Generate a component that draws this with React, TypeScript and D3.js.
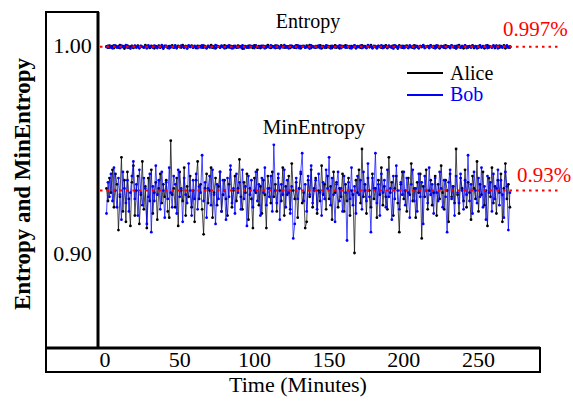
import React from "react";
import * as d3 from "d3";

const X_TICKS = [0, 50, 100, 150, 200, 250];
const Y_TICKS = [1.0, 0.9];
const Y_TICK_LABELS = ["1.00", "0.90"];
const SERIES_NAMES = ["Alice", "Bob"];
const SERIES_COLORS = ["#000000", "#0000ff"];
const ENTROPY_REF = 0.9992;
const MINENTROPY_REF = 0.93;
const ENTROPY_REF_LABEL = "0.997%";
const MINENTROPY_REF_LABEL = "0.93%";
const FIRST_MINUTE = 1;

const aliceEntropy = [
  .9993,.9987,.9997,.9989,.9995,.9985,.9997,.9991,.9988,.9999,.9990,.9995,.9983,.9993,.9997,.9988,.9992,.9996,.9986,.9994,
  .9990,.9997,.9985,.9995,.9991,.9988,.9999,.9990,.9994,.9986,.9996,.9992,.9984,.9995,.9989,.9997,.9987,.9993,.9983,.9996,
  .9992,.9986,.9995,.9989,.9998,.9987,.9994,.9985,.9996,.9991,.9988,.9999,.9990,.9994,.9986,.9995,.9992,.9997,.9987,.9993,
  .9985,.9996,.9990,.9994,.9988,.9997,.9991,.9986,.9995,.9989,.9999,.9987,.9993,.9984,.9996,.9992,.9988,.9995,.9990,.9998,
  .9986,.9994,.9989,.9996,.9984,.9995,.9991,.9987,.9997,.9990,.9993,.9983,.9995,.9991,.9988,.9996,.9989,.9994,.9986,.9998,
  .9992,.9987,.9995,.9985,.9996,.9990,.9993,.9988,.9999,.9991,.9986,.9995,.9989,.9997,.9987,.9994,.9984,.9998,.9991,.9988,
  .9995,.9989,.9993,.9986,.9996,.9991,.9987,.9998,.9990,.9994,.9984,.9995,.9992,.9988,.9997,.9989,.9999,.9986,.9993,.9991,
  .9987,.9995,.9990,.9998,.9984,.9994,.9991,.9987,.9996,.9989,.9995,.9985,.9993,.9998,.9988,.9992,.9984,.9996,.9990,.9994,
  .9998,.9988,.9992,.9985,.9995,.9990,.9997,.9984,.9994,.9991,.9987,.9998,.9989,.9995,.9985,.9993,.9991,.9999,.9987,.9990,
  .9995,.9984,.9996,.9992,.9987,.9994,.9989,.9998,.9985,.9995,.9991,.9988,.9997,.9990,.9994,.9983,.9998,.9992,.9987,.9995,
  .9989,.9997,.9985,.9993,.9991,.9987,.9998,.9990,.9995,.9984,.9994,.9992,.9997,.9988,.9990,.9995,.9985,.9998,.9991,.9987,
  .9994,.9989,.9996,.9984,.9995,.9992,.9987,.9998,.9990,.9993,.9985,.9997,.9991,.9988,.9995,.9989,.9999,.9987,.9994,.9984,
  .9997,.9991,.9988,.9995,.9990,.9998,.9985,.9993,.9992,.9987,.9996,.9989,.9995,.9984,.9994,.9998,.9988,.9992,.9990,.9995,
  .9985,.9997,.9991,.9987,.9994,.9989,.9998,.9984,.9995,.9991,.9988,
];

const bobEntropy = [
  .9990,.9996,.9987,.9994,.9984,.9998,.9991,.9988,.9995,.9985,.9997,.9990,.9993,.9999,.9987,.9992,.9983,.9995,.9989,.9997,
  .9987,.9994,.9985,.9996,.9991,.9989,.9995,.9984,.9998,.9990,.9993,.9987,.9997,.9992,.9985,.9995,.9990,.9999,.9986,.9994,
  .9996,.9989,.9984,.9995,.9991,.9987,.9998,.9985,.9993,.9990,.9997,.9992,.9986,.9995,.9983,.9998,.9990,.9994,.9987,.9996,
  .9991,.9985,.9995,.9989,.9998,.9987,.9994,.9984,.9996,.9991,.9989,.9995,.9985,.9999,.9990,.9993,.9987,.9997,.9992,.9984,
  .9995,.9990,.9998,.9987,.9993,.9985,.9996,.9991,.9988,.9995,.9989,.9998,.9983,.9994,.9992,.9987,.9997,.9990,.9995,.9985,
  .9998,.9991,.9987,.9994,.9989,.9996,.9984,.9995,.9992,.9988,.9998,.9990,.9993,.9985,.9997,.9991,.9987,.9995,.9989,.9999,
  .9987,.9993,.9984,.9997,.9991,.9989,.9995,.9986,.9998,.9985,.9994,.9991,.9996,.9987,.9990,.9995,.9983,.9998,.9992,.9988,
  .9994,.9989,.9997,.9985,.9995,.9991,.9987,.9998,.9990,.9993,.9984,.9996,.9992,.9988,.9995,.9990,.9998,.9985,.9994,.9991,
  .9987,.9996,.9990,.9995,.9984,.9993,.9998,.9988,.9992,.9990,.9997,.9985,.9995,.9991,.9987,.9999,.9989,.9994,.9984,.9996,
  .9992,.9987,.9995,.9990,.9998,.9985,.9994,.9991,.9988,.9997,.9990,.9995,.9983,.9998,.9992,.9987,.9994,.9989,.9996,.9985,
  .9995,.9991,.9987,.9998,.9989,.9994,.9984,.9996,.9992,.9988,.9995,.9990,.9999,.9985,.9993,.9991,.9987,.9997,.9990,.9995,
  .9984,.9998,.9991,.9988,.9994,.9990,.9996,.9985,.9995,.9992,.9987,.9998,.9989,.9994,.9983,.9997,.9991,.9988,.9995,.9990,
  .9998,.9985,.9993,.9991,.9987,.9996,.9990,.9995,.9984,.9994,.9998,.9988,.9992,.9990,.9997,.9985,.9995,.9991,.9987,.9998,
  .9990,.9994,.9984,.9997,.9991,.9988,.9995,.9990,.9998,.9987,.9993,
];

const aliceMinEntropy = [
  0.931,0.925,0.936,0.929,0.940,0.922,0.938,0.933,0.911,0.927,0.946,0.920,0.935,0.915,0.939,0.926,0.913,0.934,0.942,0.918,
  0.930,0.937,0.914,0.928,0.944,0.921,0.932,0.912,0.936,0.925,0.940,0.919,0.929,0.934,0.916,0.931,0.938,0.924,0.933,0.927,
  0.935,0.920,0.917,0.954,0.928,0.931,0.922,0.936,0.913,0.939,0.930,0.925,0.941,0.918,0.932,0.927,0.937,0.922,0.930,0.915,
  0.935,0.944,0.926,0.933,0.921,0.909,0.931,0.938,0.924,0.930,0.941,0.917,0.929,0.936,0.923,0.932,0.939,0.920,0.928,0.935,
  0.926,0.918,0.933,0.940,0.922,0.930,0.937,0.925,0.931,0.945,0.927,0.921,0.934,0.929,0.938,0.916,0.931,0.926,0.912,0.936,
  0.929,0.940,0.923,0.932,0.919,0.935,0.928,0.912,0.937,0.931,0.924,0.939,0.927,0.933,0.920,0.936,0.930,0.925,0.941,0.918,
  0.932,0.928,0.937,0.921,0.943,0.930,0.926,0.934,0.917,0.931,0.938,0.924,0.929,0.912,0.915,0.935,0.927,0.940,0.922,0.931,
  0.936,0.919,0.930,0.925,0.942,0.928,0.933,0.921,0.937,0.926,0.932,0.916,0.939,0.929,0.934,0.922,0.931,0.927,0.938,0.920,
  0.933,0.925,0.936,0.918,0.930,0.928,0.900,0.935,0.929,0.940,0.924,0.950,0.927,0.933,0.919,0.936,0.930,0.922,0.938,0.926,
  0.931,0.917,0.935,0.928,0.941,0.923,0.932,0.927,0.921,0.946,0.929,0.934,0.918,0.931,0.937,0.924,0.910,0.933,0.939,0.926,
  0.930,0.920,0.936,0.928,0.943,0.925,0.931,0.917,0.934,0.929,0.938,0.907,0.932,0.927,0.940,0.921,0.930,0.935,0.923,0.929,
  0.937,0.918,0.933,0.926,0.942,0.929,0.921,0.935,0.930,0.915,0.938,0.927,0.932,0.924,0.950,0.928,0.919,0.936,0.931,0.925,
  0.940,0.922,0.934,0.929,0.916,0.937,0.931,0.926,0.944,0.920,0.933,0.928,0.939,0.923,0.930,0.913,0.936,0.927,0.941,0.924,
  0.932,0.919,0.935,0.929,0.938,0.915,0.931,0.943,0.926,0.933,0.922,
];

const bobMinEntropy = [
  0.919,0.934,0.927,0.938,0.925,0.941,0.930,0.922,0.936,0.928,0.916,0.939,0.931,0.924,0.935,0.920,0.929,0.937,0.944,0.926,
  0.933,0.918,0.940,0.929,0.923,0.936,0.931,0.914,0.927,0.938,0.910,0.932,0.925,0.942,0.928,0.935,0.921,0.939,0.930,0.917,
  0.934,0.926,0.941,0.929,0.922,0.937,0.933,0.919,0.940,0.927,0.931,0.915,0.936,0.928,0.924,0.943,0.930,0.918,0.935,0.926,
  0.938,0.921,0.932,0.929,0.947,0.925,0.934,0.917,0.931,0.937,0.923,0.940,0.928,0.914,0.933,0.926,0.939,0.920,0.935,0.930,
  0.916,0.936,0.927,0.942,0.924,0.931,0.919,0.938,0.929,0.934,0.921,0.940,0.926,0.932,0.913,0.937,0.928,0.935,0.922,0.930,
  0.939,0.925,0.933,0.918,0.936,0.929,0.941,0.923,0.931,0.927,0.937,0.920,0.952,0.930,0.924,0.938,0.916,0.933,0.928,0.940,
  0.922,0.935,0.929,0.919,0.932,0.907,0.914,0.936,0.926,0.931,0.939,0.948,0.925,0.933,0.920,0.937,0.928,0.942,0.924,0.930,
  0.935,0.921,0.938,0.929,0.918,0.934,0.926,0.940,0.931,0.946,0.923,0.936,0.928,0.915,0.933,0.939,0.925,0.931,0.920,0.937,
  0.929,0.906,0.934,0.926,0.941,0.923,0.932,0.919,0.937,0.928,0.935,0.921,0.939,0.930,0.925,0.943,0.927,0.910,0.936,0.931,
  0.948,0.924,0.933,0.918,0.938,0.929,0.935,0.922,0.940,0.927,0.931,0.916,0.937,0.926,0.942,0.930,0.921,0.934,0.928,0.939,
  0.923,0.936,0.929,0.917,0.933,0.940,0.925,0.931,0.920,0.938,0.927,0.934,0.914,0.937,0.930,0.924,0.941,0.928,0.933,0.919,
  0.936,0.929,0.925,0.939,0.931,0.922,0.935,0.927,0.910,0.934,0.940,0.926,0.932,0.918,0.937,0.929,0.924,0.938,0.930,0.921,
  0.935,0.928,0.947,0.925,0.933,0.919,0.939,0.930,0.924,0.936,0.927,0.941,0.922,0.932,0.916,0.937,0.929,0.934,0.920,0.938,
  0.926,0.931,0.940,0.923,0.935,0.928,0.917,0.939,0.932,0.911,0.929,
];

const W = 573;
const H = 401;
const SERIF = { fontFamily: "'Liberation Serif', 'DejaVu Serif', serif" };

export default function App() {
  const x = d3.scaleLinear().domain([0, 250]).range([105, 478.5]);
  const y = d3.scaleLinear().domain([0.9, 1.0]).range([253, 45]);

  const series = [
    { color: SERIES_COLORS[0], data: aliceMinEntropy },
    { color: SERIES_COLORS[1], data: bobMinEntropy },
    { color: SERIES_COLORS[0], data: aliceEntropy },
    { color: SERIES_COLORS[1], data: bobEntropy },
  ];

  const line = d3
    .line<number>()
    .x((_, i) => x(FIRST_MINUTE + i))
    .y((d) => y(d));

  const plotLeft = 98;
  const plotBottom = 348;
  const frameLeft = 46;
  const frameTop = 12;
  const frameRight = 540;
  const axisBottom = 372;

  return (
    <svg width={W} height={H} style={{ position: "absolute", left: 0, top: 0, background: "#fff" }}>
      <rect x={0} y={0} width={W} height={H} fill="#fff" />
      {series.map((s, k) => (
        <g key={k}>
          <path d={line(s.data) || ""} fill="none" stroke={s.color} strokeWidth={0.7} />
          {s.data.map((v, i) => (
            <circle key={i} cx={x(FIRST_MINUTE + i)} cy={y(v)} r={1.4} fill={s.color} />
          ))}
        </g>
      ))}
      {[ENTROPY_REF, MINENTROPY_REF].map((v, i) => (
        <line key={i} x1={100} x2={558} y1={y(v)} y2={y(v)} stroke="#ff0000" strokeWidth={2} strokeDasharray="2.5,4" />
      ))}
      <text x={503} y={36} fontSize={21} fill="#ff0000" style={SERIF}>{ENTROPY_REF_LABEL}</text>
      <text x={517} y={182} fontSize={21} fill="#ff0000" style={SERIF}>{MINENTROPY_REF_LABEL}</text>

      <text x={308} y={28} fontSize={20} textAnchor="middle" style={SERIF}>Entropy</text>
      <text x={314} y={134} fontSize={21} textAnchor="middle" style={SERIF}>MinEntropy</text>

      {SERIES_NAMES.map((n, i) => (
        <g key={n}>
          <line x1={407} x2={443} y1={73 + i * 22} y2={73 + i * 22} stroke={SERIES_COLORS[i]} strokeWidth={2} />
          <text x={450} y={80 + i * 21} fontSize={20} fill={SERIES_COLORS[i]} style={SERIF}>{n}</text>
        </g>
      ))}

      <rect x={frameLeft} y={frameTop} width={plotLeft - frameLeft} height={plotBottom - frameTop} fill="none" stroke="#000" strokeWidth={2} />
      <line x1={plotLeft} x2={plotLeft} y1={frameTop} y2={plotBottom} stroke="#000" strokeWidth={3} />
      <rect x={frameLeft} y={plotBottom} width={frameRight - frameLeft} height={axisBottom - plotBottom} fill="none" stroke="#000" strokeWidth={2} />
      <line x1={frameLeft} x2={frameRight} y1={plotBottom} y2={plotBottom} stroke="#000" strokeWidth={3} />

      {Y_TICKS.map((t, i) => (
        <text key={t} x={72.5} y={y(t) + 8} fontSize={22} textAnchor="middle" style={SERIF}>{Y_TICK_LABELS[i]}</text>
      ))}
      {X_TICKS.map((t) => (
        <text key={t} x={x(t)} y={367} fontSize={22} textAnchor="middle" style={SERIF}>{t}</text>
      ))}

      <text x={298} y={392} fontSize={22} textAnchor="middle" style={SERIF}>Time (Minutes)</text>
      <text transform="translate(30, 184) rotate(-90)" fontSize={23} fontWeight="bold" textAnchor="middle" style={SERIF}>
        Entropy and MinEntropy
      </text>
    </svg>
  );
}
